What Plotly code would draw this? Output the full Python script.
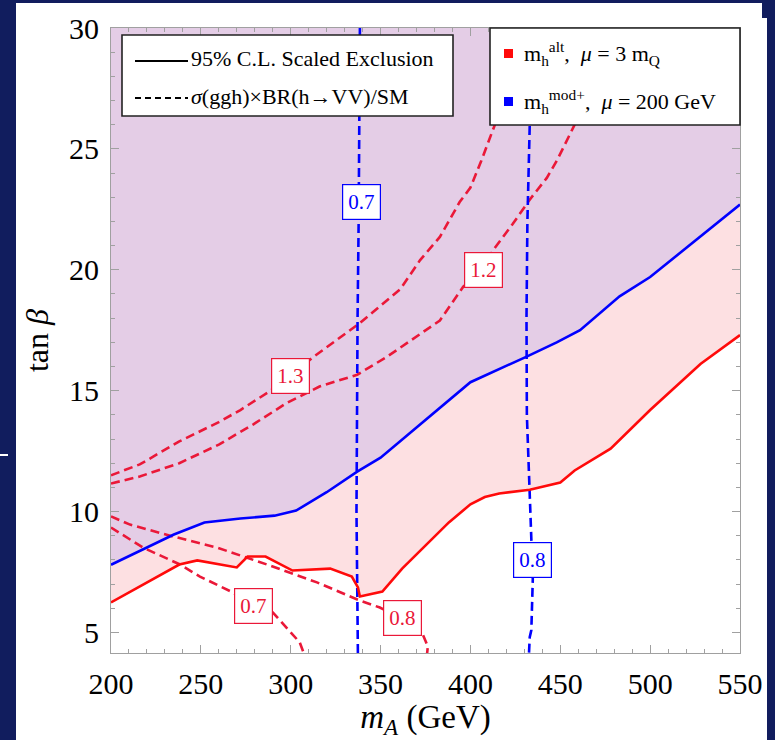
import plotly.graph_objects as go

# ---------------- data ----------------
X_MIN, X_MAX = 200, 550
Y_MIN, Y_MAX = 4.15, 30

# 95% C.L. scaled exclusion boundary, m_h^alt (mu = 3 m_Q)  -> excluded above
alt_excl_mA = [200, 238, 248, 270, 276, 286, 301, 322, 334, 337.4, 338.5, 351, 362, 388, 400, 408, 416, 433, 450, 458, 478, 500, 528, 550]
alt_excl_tb = [6.24, 7.81, 7.98, 7.69, 8.14, 8.14, 7.56, 7.64, 7.31, 6.86, 6.49, 6.69, 7.64, 9.55, 10.3, 10.6, 10.75, 10.9, 11.2, 11.7, 12.6, 14.2, 16.1, 17.3]

# 95% C.L. scaled exclusion boundary, m_h^mod+ (mu = 200 GeV) -> excluded above
mod_excl_mA = [200, 218, 235, 252, 272, 291, 303, 320, 337, 350, 372, 400, 431, 448, 461, 483, 500, 550]
mod_excl_tb = [7.8, 8.43, 9.05, 9.55, 9.71, 9.83, 10.04, 10.8, 11.65, 12.23, 13.6, 15.35, 16.4, 17.0, 17.5, 18.9, 19.7, 22.7]

# sigma(ggh) x BR(h->VV)/SM contours, m_h^alt
alt_r13_mA = [200, 216, 238, 260, 272, 288, 305, 312, 333, 338.5, 361, 372, 383, 394, 400, 406, 413.6, 425, 437]
alt_r13_tb = [11.5, 11.95, 12.9, 13.7, 14.2, 14.96, 15.9, 16.36, 17.5, 17.8, 19.2, 20.4, 21.36, 22.8, 23.4, 24.5, 26.0, 27.8, 30]

alt_r12_mA = [200, 216, 238, 260, 279, 298, 316, 337, 353.5, 372, 383, 396, 407.5, 412.5, 423.6, 433, 442.5, 448, 458, 470, 479, 486]
alt_r12_tb = [11.16, 11.45, 12.0, 12.77, 13.6, 14.5, 15.17, 15.66, 16.4, 17.35, 17.9, 19.3, 20.0, 20.8, 21.9, 22.9, 23.8, 24.5, 26.0, 27.7, 28.9, 30]

alt_r08_mA = [200, 210.6, 234.5, 259, 286.8, 314.6, 338.5, 349.6, 362.4, 373.5, 376.3, 375.7]
alt_r08_tb = [9.8, 9.46, 8.97, 8.51, 7.81, 7.07, 6.32, 6.03, 5.55, 4.92, 4.42, 4.0]

alt_r07_mA = [200, 217.8, 238.4, 249.5, 267.9, 279.5, 290, 294, 305, 308]
alt_r07_tb = [9.34, 8.51, 7.81, 7.31, 6.65, 6.1, 5.83, 5.5, 4.59, 4.0]

# sigma(ggh) x BR(h->VV)/SM contours, m_h^mod+
mod_r07_mA = [338.5, 338.3, 337.8, 337.2, 336.8, 336.6, 337.0, 337.4]
mod_r07_tb = [30, 26, 22, 18, 14, 10, 7, 4]

mod_r08_mA = [433.6, 433.0, 431.7, 431.2, 431.4, 433.9, 434.7, 433.9, 433.0, 432.5]
mod_r08_tb = [30, 26, 22, 18, 14, 9.0, 7.2, 5.1, 4.8, 4.0]

# contour labels: (text, mA, tanb, colour key)
label_text = ["1.3", "1.2", "0.7", "0.8", "0.7", "0.8"]
label_mA = [299.6, 407.5, 279.5, 362.4, 339.3, 434.7]
label_tb = [15.6, 20.0, 6.1, 5.6, 22.8, 8.0]
label_col = ["alt", "alt", "alt", "alt", "mod", "mod"]

x_ticks = [200, 250, 300, 350, 400, 450, 500, 550]
y_ticks = [5, 10, 15, 20, 25, 30]

# ---------------- styles ----------------
NAVY = "#111d5e"
RED = "#ff0a0a"
RED_D = "#ea1838"
BLUE = "#0000ff"
PINK = "#fde0e2"
PURPLE = "#e4cde6"
SERIF = "Liberation Serif, Times New Roman, serif"
COL = {"alt": RED_D, "mod": BLUE}

# plot area in pixels
FIG_W, FIG_H = 775, 740
PL, PR, PT, PB = 111, 740, 28, 653


def px(xp):
    return (xp - PL) / (PR - PL)


def py(yp):
    return (PB - yp) / (PB - PT)


fig = go.Figure()

# exclusion fills
fig.add_trace(go.Scatter(x=alt_excl_mA + [X_MAX, X_MIN], y=alt_excl_tb + [Y_MAX, Y_MAX],
                         fill="toself", fillcolor=PINK, line=dict(width=0), mode="lines",
                         hoverinfo="skip", showlegend=False))
fig.add_trace(go.Scatter(x=mod_excl_mA + [X_MAX, X_MIN], y=mod_excl_tb + [Y_MAX, Y_MAX],
                         fill="toself", fillcolor=PURPLE, line=dict(width=0), mode="lines",
                         hoverinfo="skip", showlegend=False))

DASH = "9px,5px"
for xs, ys, c in [(alt_r13_mA, alt_r13_tb, RED_D), (alt_r12_mA, alt_r12_tb, RED_D),
                  (alt_r08_mA, alt_r08_tb, RED_D), (alt_r07_mA, alt_r07_tb, RED_D),
                  (mod_r07_mA, mod_r07_tb, BLUE), (mod_r08_mA, mod_r08_tb, BLUE)]:
    fig.add_trace(go.Scatter(x=xs, y=ys, mode="lines", line=dict(color=c, width=2.6, dash=DASH),
                             showlegend=False))

fig.add_trace(go.Scatter(x=alt_excl_mA, y=alt_excl_tb, mode="lines",
                         line=dict(color=RED, width=2.6), showlegend=False))
fig.add_trace(go.Scatter(x=mod_excl_mA, y=mod_excl_tb, mode="lines",
                         line=dict(color=BLUE, width=2.6), showlegend=False))

annotations = []
for t, xv, yv, ck in zip(label_text, label_mA, label_tb, label_col):
    annotations.append(dict(x=xv, y=yv, xref="x", yref="y", text=t, showarrow=False,
                            font=dict(family=SERIF, size=21, color=COL[ck]),
                            bgcolor="white", bordercolor=COL[ck], borderwidth=1.2,
                            borderpad=5))

shapes = []
# slide panel
shapes.append(dict(type="rect", xref="paper", yref="paper", x0=px(16), x1=px(762), y0=py(740), y1=py(3),
                   fillcolor="white", line=dict(width=0), layer="below"))
shapes.append(dict(type="rect", xref="paper", yref="paper", x0=px(761), x1=px(767), y0=py(740), y1=py(18),
                   fillcolor="white", line=dict(width=0), layer="below"))
shapes.append(dict(type="line", xref="paper", yref="paper", x0=px(0), x1=px(8), y0=py(455), y1=py(455),
                   line=dict(color="white", width=2), layer="below"))

# legend 1
shapes.append(dict(type="rect", xref="paper", yref="paper", x0=px(122), x1=px(453), y0=py(116), y1=py(35),
                   fillcolor="white", line=dict(color="#222", width=1.6), layer="above"))
shapes.append(dict(type="line", xref="paper", yref="paper", x0=px(135), x1=px(188), y0=py(61), y1=py(61),
                   line=dict(color="black", width=2.2), layer="above"))
shapes.append(dict(type="line", xref="paper", yref="paper", x0=px(135), x1=px(188), y0=py(98), y1=py(98),
                   line=dict(color="black", width=2.2, dash="6px,4px"), layer="above"))
annotations.append(dict(x=px(189), y=py(59), xref="paper", yref="paper", xanchor="left", yanchor="middle",
                        text="95% C.L. Scaled Exclusion", showarrow=False,
                        font=dict(family=SERIF, size=22, color="black")))
annotations.append(dict(x=px(189), y=py(96), xref="paper", yref="paper", xanchor="left", yanchor="middle",
                        text="<i>σ</i>(ggh)×BR(h→VV)/SM", showarrow=False,
                        font=dict(family=SERIF, size=22, color="black")))

# legend 2
shapes.append(dict(type="rect", xref="paper", yref="paper", x0=px(490), x1=px(740), y0=py(125), y1=py(28),
                   fillcolor="white", line=dict(color="#222", width=1.6), layer="above"))
shapes.append(dict(type="rect", xref="paper", yref="paper", x0=px(504), x1=px(513), y0=py(58), y1=py(49),
                   fillcolor=RED, line=dict(width=0), layer="above"))
shapes.append(dict(type="rect", xref="paper", yref="paper", x0=px(504), x1=px(513), y0=py(106), y1=py(97),
                   fillcolor=BLUE, line=dict(width=0), layer="above"))
annotations.append(dict(x=px(522), y=py(53), xref="paper", yref="paper", xanchor="left", yanchor="middle",
                        text="m<sub>h</sub><sup>alt</sup>,  <i>μ</i> = 3 m<sub>Q</sub>", showarrow=False,
                        font=dict(family=SERIF, size=22, color="black")))
annotations.append(dict(x=px(522), y=py(101), xref="paper", yref="paper", xanchor="left", yanchor="middle",
                        text="m<sub>h</sub><sup>mod+</sup>,  <i>μ</i> = 200 GeV", showarrow=False,
                        font=dict(family=SERIF, size=22, color="black")))

axis_common = dict(showgrid=False, zeroline=False, showline=True, linecolor="#a0a0a0", linewidth=1,
                   mirror="allticks", ticks="inside", ticklen=8, tickcolor="#a0a0a0", tickwidth=1,
                   tickfont=dict(family=SERIF, size=30, color="black"))

fig.update_layout(
    width=FIG_W, height=FIG_H,
    margin=dict(l=PL, r=FIG_W - PR, t=PT, b=FIG_H - PB),
    paper_bgcolor=NAVY, plot_bgcolor="white",
    xaxis=dict(range=[X_MIN, X_MAX], tickvals=x_ticks, ticktext=[str(v) for v in x_ticks],
               minor=dict(ticks="inside", dtick=10, tick0=200, ticklen=4, tickcolor="#a0a0a0"),
               ticklabelstandoff=4,
               title=dict(text="<i>m<sub>A</sub></i> (GeV)", font=dict(family=SERIF, size=33, color="black"),
                          standoff=4),
               **axis_common),
    yaxis=dict(range=[Y_MIN, Y_MAX], tickvals=y_ticks, ticktext=[str(v) for v in y_ticks],
               minor=dict(ticks="inside", dtick=1, tick0=0, ticklen=4, tickcolor="#a0a0a0"),
               ticklabelstandoff=5,
               title=dict(text="tan <i>β</i>", font=dict(family=SERIF, size=32, color="black"),
                          standoff=10),
               **axis_common),
    shapes=shapes,
    annotations=annotations,
    showlegend=False,
)

fig.write_html("out.html")
